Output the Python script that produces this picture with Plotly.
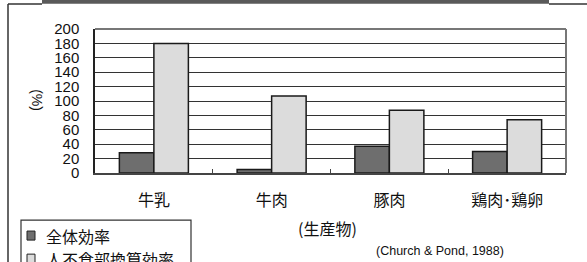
import plotly.graph_objects as go

categories = ["牛乳", "牛肉", "豚肉", "鶏肉･鶏卵"]
overall_eff = [28, 5, 37, 30]
inedible_eff = [180, 107, 87, 74]
series_names = ["全体効率", "人不食部換算効率"]
y_ticks = list(range(0, 201, 20))

W, H = 587, 262
L, R, T, B = 95, 21, 29, 89.4
pw, ph = W - L - R, H - T - B


def px(x):
    return (x - L) / pw


def py(y):
    return (H - B - y) / ph


DARK = "#6e6e6e"
LIGHT = "#dcdcdc"
JP = "Noto Sans CJK JP"
LAT = "Liberation Sans"

fig = go.Figure()
fig.add_trace(go.Bar(x=categories, y=overall_eff, name=series_names[0],
                     marker=dict(color=DARK, line=dict(color="#1a1a1a", width=1.5))))
fig.add_trace(go.Bar(x=categories, y=inedible_eff, name=series_names[1],
                     marker=dict(color=LIGHT, line=dict(color="#1a1a1a", width=1.5))))

shapes = []
shapes.append(dict(type="rect", xref="paper", yref="paper", x0=px(42), x1=px(549),
                   y0=py(-1), y1=py(3.8), fillcolor="#5a5a5a", line=dict(width=0), layer="above"))
shapes.append(dict(type="line", xref="paper", yref="paper", x0=px(8), x1=px(42),
                   y0=py(4), y1=py(4), line=dict(color="#333", width=1.5)))
shapes.append(dict(type="line", xref="paper", yref="paper", x0=px(549), x1=px(587),
                   y0=py(4), y1=py(4), line=dict(color="#333", width=1.5)))
shapes.append(dict(type="line", xref="paper", yref="paper", x0=px(8), x1=px(8),
                   y0=py(4), y1=py(262), line=dict(color="#333", width=1.5)))
shapes.append(dict(type="rect", xref="paper", yref="paper", x0=px(21), x1=px(191),
                   y0=py(219.5), y1=py(270), line=dict(color="#333", width=1.2)))
legend_rows = [(235, DARK, series_names[0]), (258, LIGHT, series_names[1])]
annotations = []
for yc, col, name in legend_rows:
    shapes.append(dict(type="rect", xref="paper", yref="paper", x0=px(27), x1=px(35),
                       y0=py(yc - 4.5), y1=py(yc + 4.5), fillcolor=col,
                       line=dict(color="#222", width=1)))
    annotations.append(dict(xref="paper", yref="paper", x=px(44), y=py(yc), text=name,
                            showarrow=False, xanchor="left", yanchor="middle",
                            font=dict(family=JP, size=16, color="#111")))

annotations.append(dict(xref="paper", yref="paper", x=px(37), y=py(100), text="(%)",
                        textangle=90, showarrow=False, xanchor="center", yanchor="middle",
                        font=dict(family=LAT, size=14, color="#111")))
annotations.append(dict(xref="paper", yref="paper", x=px(327), y=py(227), text="(生産物)",
                        showarrow=False, xanchor="center", yanchor="middle",
                        font=dict(family=JP, size=16, color="#111")))
annotations.append(dict(xref="paper", yref="paper", x=px(440), y=py(250),
                        text="(Church & Pond, 1988)",
                        showarrow=False, xanchor="center", yanchor="middle",
                        font=dict(family=LAT, size=12.5, color="#111")))

fig.update_layout(
    width=W, height=H,
    margin=dict(l=L, r=R, t=T, b=B, autoexpand=False),
    paper_bgcolor="white", plot_bgcolor="white",
    barmode="group", bargap=0.414, bargroupgap=0,
    showlegend=False,
    shapes=shapes, annotations=annotations,
)
fig.update_xaxes(showline=True, linecolor="#444", linewidth=2, mirror=False,
                 ticks="inside", tickson="boundaries", ticklen=4, tickcolor="#444",
                 tickfont=dict(family=JP, size=16, color="#111"),
                 ticklabelstandoff=12, showgrid=False)
fig.update_yaxes(range=[0, 200], tickvals=y_ticks, ticktext=[str(v) for v in y_ticks],
                 showline=True, linecolor="#222", linewidth=1.5,
                 showgrid=True, gridcolor="#333", gridwidth=1.2,
                 tickfont=dict(family=LAT, size=15, color="#111"),
                 ticks="", ticklabelstandoff=11, zeroline=False)
fig.add_shape(type="line", xref="paper", yref="paper", x0=1, x1=1, y0=0, y1=1,
              line=dict(color="#777", width=2))
fig.add_shape(type="line", xref="paper", yref="paper", x0=0, x1=1, y0=1, y1=1,
              line=dict(color="#777", width=2))

fig.write_html("out.html", config={"displayModeBar": False},
               post_script="document.body.style.margin='0';document.body.style.overflow='hidden';")
